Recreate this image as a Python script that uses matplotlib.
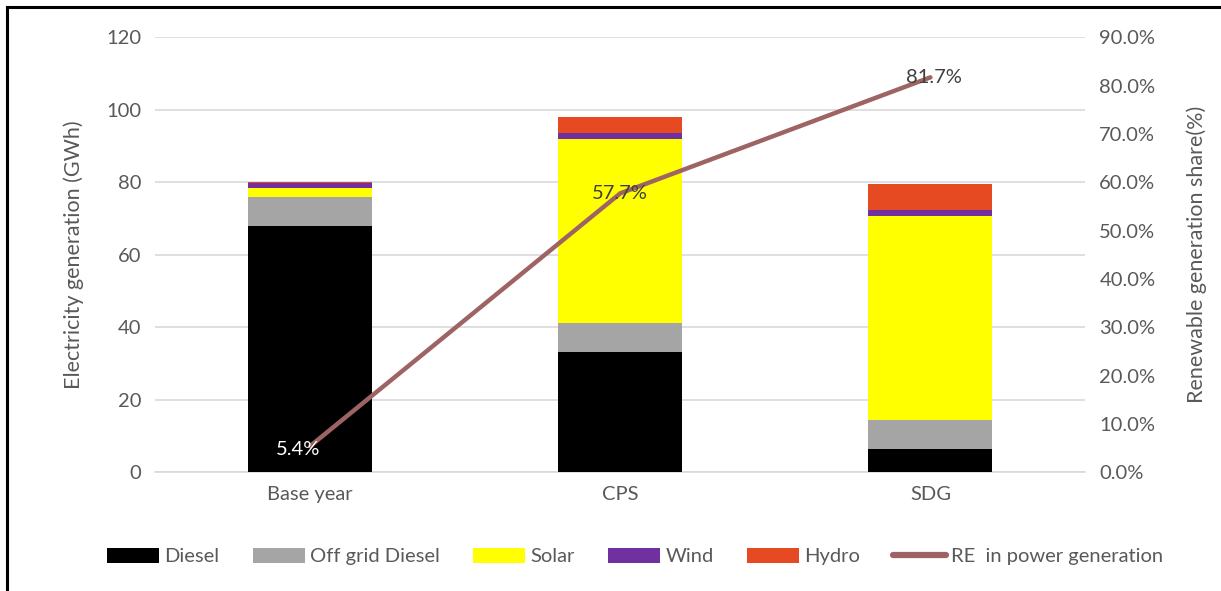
import numpy as np
import matplotlib.pyplot as plt
from matplotlib.lines import Line2D

plt.rcParams['font.family'] = ['Lato', 'DejaVu Sans']

# data
scenarios = ['Base year', 'CPS', 'SDG']
diesel = [67.9, 33.1, 6.3]
offgrid = [8.0, 8.1, 8.0]
solar = [2.4, 50.7, 56.4]
wind = [1.5, 1.6, 1.5]
hydro = [0.3, 4.4, 7.2]
re_share = [5.4, 57.7, 81.7]

series = [('Diesel', diesel, '#000000'),
          ('Off grid Diesel', offgrid, '#a5a5a5'),
          ('Solar', solar, '#ffff00'),
          ('Wind', wind, '#7030a0'),
          ('Hydro', hydro, '#e64a22')]

txt = '#595959'

fig = plt.figure(figsize=(12.21, 5.91), dpi=100)
ax = fig.add_axes([0.127, 0.201, 0.762, 0.736])

x = np.arange(len(scenarios))
bottom = np.zeros(len(scenarios))
for name, vals, col in series:
    ax.bar(x, vals, 0.4, bottom=bottom, color=col, label=name, zorder=3)
    bottom += np.array(vals)

ax.set_xlim(-0.5, 2.5)
ax.set_ylim(0, 120)
ax.set_yticks(np.arange(0, 121, 20))
ax.grid(axis='y', color='#d9d9d9', linewidth=1.2, zorder=0)
for s in ['top', 'right', 'left']:
    ax.spines[s].set_visible(False)
ax.spines['bottom'].set_color('#d9d9d9')
ax.spines['bottom'].set_linewidth(1.2)
ax.tick_params(axis='both', length=0, colors=txt, labelsize=14.5, pad=10)
ax.set_xticks(x)
ax.set_xticklabels(scenarios)
ax.set_ylabel('Electricity generation (GWh)', color=txt, fontsize=15.5, labelpad=16)

ax2 = ax.twinx()
ax2.set_ylim(0, 90)
ax2.set_yticks(np.arange(0, 91, 10))
ax2.set_yticklabels(['%.1f%%' % v for v in np.arange(0, 91, 10)])
ax2.tick_params(axis='y', length=0, colors=txt, labelsize=14.5, pad=10)
for s in ax2.spines.values():
    s.set_visible(False)
ax2.set_ylabel('Renewable generation share(%)', color=txt, fontsize=15.5, labelpad=22)
ax2.plot(x, re_share, color='#9e6464', linewidth=3.2, solid_capstyle='round', zorder=4)

ax2.text(x[0] - 0.04, re_share[0] - 0.6, '5.4%', color='white', fontsize=14.5,
         ha='center', va='center', zorder=5)
ax2.text(x[1], re_share[1], '57.7%', color='#404040', fontsize=14.5,
         ha='center', va='center', zorder=5)
ax2.text(x[2] + 0.01, re_share[2], '81.7%', color='#404040', fontsize=14.5,
         ha='center', va='center', zorder=5)

handles, labels = ax.get_legend_handles_labels()
handles.append(Line2D([0], [0], color='#9e6464', linewidth=4.5, solid_capstyle='round'))
labels.append('RE  in power generation')
leg = fig.legend(handles, labels, loc='center', bbox_to_anchor=(0.52, 0.058), ncol=6,
                 frameon=False, fontsize=14.5, handlelength=2.6, handleheight=0.75,
                 handletextpad=0.25, columnspacing=1.65, labelcolor=txt)

# frame lines at the top and left of the image
fig.add_artist(Line2D([0.006, 1.0], [0.988, 0.988], color='black', linewidth=2.2))
fig.add_artist(Line2D([0.006, 0.006], [0.0, 0.988], color='black', linewidth=2.2))

fig.savefig('out.png', dpi=100)
